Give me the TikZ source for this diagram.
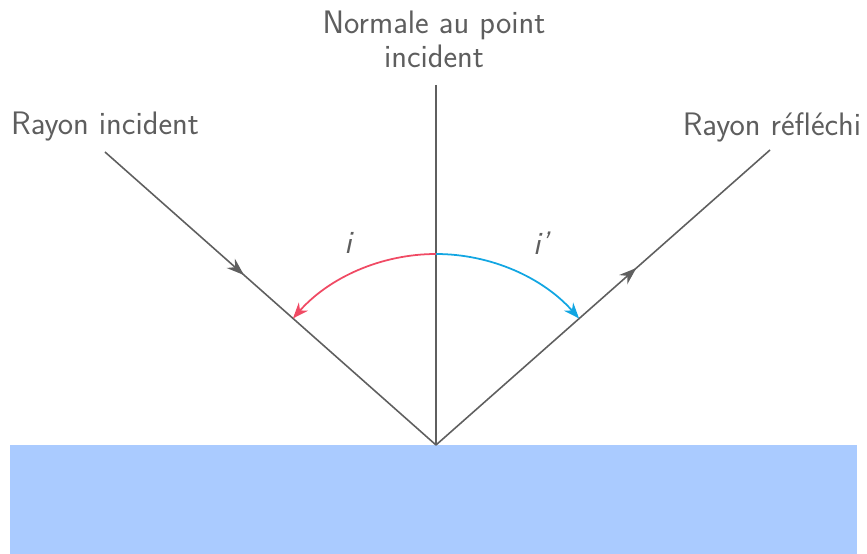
\documentclass[tikz,border=0pt]{standalone}
\usepackage{tikz}
\usetikzlibrary{arrows.meta,decorations.markings}

\definecolor{raygray}{HTML}{5F5F5F}
\definecolor{txtgray}{HTML}{5E5E5E}
\definecolor{mirrorblue}{HTML}{AACBFF}
\definecolor{arcred}{HTML}{F04A64}
\definecolor{arcblue}{HTML}{12A6E2}

\begin{document}
\begin{tikzpicture}[
  ray/.style={raygray, line width=0.9pt},
  midarrow/.style={postaction={decorate}, decoration={markings,
      mark=at position #1 with {\arrow{Stealth[length=10pt,width=7pt]}}}},
  angarc/.style={line width=1pt, -{Stealth[length=9pt,width=7pt]}},
  lbl/.style={txtgray, font=\sffamily\fontsize{18.5}{19.5}\selectfont, align=center},
]
\useasboundingbox (-8.72,-2.18) rectangle (8.62,8.9);

% === Mirror ===
\fill[mirrorblue] (-8.52,-2.18) rectangle (8.42,0);

% === Points ===
\coordinate (O) at (0,0);
\coordinate (N) at (0,7.2);
\coordinate (A) at (-6.62,5.86);
\coordinate (B) at (6.68,5.9);

% === Rays and normal ===
\draw[ray] (N) -- (O);
\draw[ray, midarrow=0.42] (A) -- (O);
\draw[ray, midarrow=0.6] (O) -- (B);

% === Angles ===
\draw[angarc, arcred] (90:3.82) arc (90:138.5:3.82);
\draw[angarc, arcblue] (90:3.82) arc (90:41.5:3.82);
\node[lbl, font=\sffamily\itshape\fontsize{18.5}{19.5}\selectfont] (i) at (-1.76,4.04) {i};
\node[lbl, font=\sffamily\itshape\fontsize{18.5}{19.5}\selectfont] (ip) at (2.1,4.04) {i'};

% === Labels ===
\node[lbl] (normale) at (-0.04,8.12) {Normale au point\\incident};
\node[lbl] (incident) at (-6.62,6.36) {Rayon incident};
\node[lbl] (reflechi) at (6.72,6.36) {Rayon réfléchi};

\end{tikzpicture}
\end{document}
